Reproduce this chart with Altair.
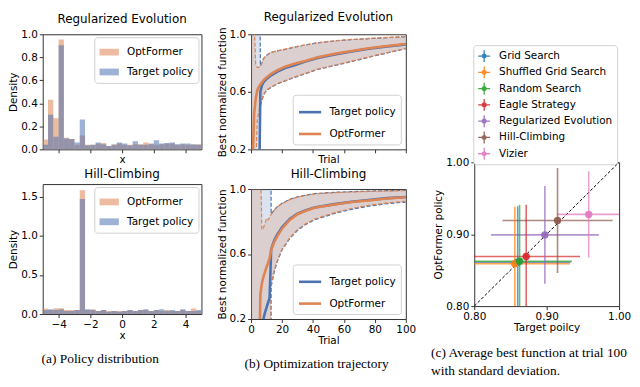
import altair as alt
import pandas as pd

BLUE = "#4c72b0"
ORANGE = "#dd8452"
FONT = "DejaVu Sans"
SERIF = "Liberation Serif"

# ---------------- (a) Policy distribution: 30 histogram bins on [-5, 5]
bin_left = [-5 + i / 3 for i in range(30)]
bin_right = [-5 + (i + 1) / 3 for i in range(30)]
re_opt = [0.085, 0.43, 0.27, 0.955, 0.10, 0.09, 0.04, 0.12, 0.04, 0.04,
          0.05, 0.055, 0.03, 0.045, 0.05, 0.04, 0.04, 0.045, 0.045, 0.06,
          0.045, 0.04, 0.045, 0.05, 0.05, 0.04, 0.045, 0.04, 0.04, 0.045]
re_tgt = [0.04, 0.30, 0.11, 0.905, 0.095, 0.09, 0.06, 0.26, 0.035, 0.04,
          0.06, 0.045, 0.03, 0.04, 0.06, 0.05, 0.035, 0.07, 0.04, 0.04,
          0.05, 0.08, 0.05, 0.055, 0.06, 0.045, 0.05, 0.05, 0.045, 0.04]
hc_opt = [0.07, 0.05, 0.075, 0.075, 0.05, 0.05, 0.05, 1.58, 0.05, 0.06,
          0.04, 0.05, 0.04, 0.04, 0.04, 0.04, 0.05, 0.04, 0.05, 0.05,
          0.04, 0.05, 0.04, 0.05, 0.04, 0.04, 0.05, 0.04, 0.07, 0.04]
hc_tgt = [0.05, 0.06, 0.05, 0.06, 0.04, 0.04, 0.05, 1.47, 0.06, 0.05,
          0.04, 0.05, 0.03, 0.04, 0.03, 0.04, 0.05, 0.04, 0.05, 0.06,
          0.04, 0.05, 0.06, 0.04, 0.05, 0.04, 0.06, 0.04, 0.04, 0.05]

# ---------------- (b) Optimization trajectory
re_trials = [0, 1, 2, 3, 4, 5, 6, 7, 8, 10, 13, 17, 22, 28, 35, 43, 55, 65, 76, 88, 100]
re_tgt_mean = [-1, -1, -1, -1, -1, -0.3, 0.60, 0.645, 0.665, 0.69, 0.715, 0.74, 0.765,
               0.785, 0.81, 0.835, 0.862, 0.88, 0.90, 0.915, 0.93]
re_tgt_hi = [3, 3, 3, 3, 3, 3, 0.78, 0.80, 0.83, 0.855, 0.875, 0.885, 0.895, 0.91,
             0.925, 0.94, 0.955, 0.963, 0.97, 0.977, 0.983]
re_tgt_lo = [-3, -3, -3, -3, -3, -3, 0.50, 0.54, 0.575, 0.61, 0.63, 0.655, 0.675, 0.70,
             0.725, 0.755, 0.785, 0.81, 0.84, 0.87, 0.90]
re_opt_mean = [-0.3, 0.1, 0.45, 0.55, 0.61, 0.635, 0.65, 0.665, 0.68, 0.70, 0.725, 0.75,
               0.775, 0.795, 0.815, 0.84, 0.866, 0.884, 0.903, 0.918, 0.933]
re_opt_hi = [3, 3, 1.1, 0.79, 0.77, 0.77, 0.785, 0.80, 0.83, 0.855, 0.875, 0.885, 0.897,
             0.912, 0.927, 0.942, 0.956, 0.964, 0.971, 0.978, 0.984]
re_opt_lo = [-3, -3, -0.2, 0.05, 0.40, 0.46, 0.51, 0.545, 0.578, 0.613, 0.633, 0.658,
             0.678, 0.703, 0.728, 0.758, 0.788, 0.813, 0.843, 0.872, 0.902]

hc_trials = [0, 1, 2, 3, 4, 5, 6, 7, 8, 9, 10, 11, 12, 13, 15, 17, 20, 25, 30, 35, 41,
             54, 65, 76, 88, 100]
hc_tgt_mean = [-1, -1, -1, -1, -1, -1, -1, 0.1, 0.2, 0.24, 0.27, 0.30, 0.33, 0.63, 0.685,
               0.72, 0.765, 0.815, 0.848, 0.868, 0.887, 0.907, 0.922, 0.932, 0.944, 0.951]
hc_tgt_hi = [3, 3, 3, 3, 3, 3, 3, 3, 3, 3, 3, 3, 3, 0.845, 0.872, 0.892, 0.912, 0.937,
             0.952, 0.962, 0.972, 0.98, 0.984, 0.987, 0.99, 0.992]
hc_tgt_lo = [-3, -3, -3, -3, -3, -3, -3, -3, -3, -3, -3, -3, -3, 0.40, 0.49, 0.555, 0.625,
             0.695, 0.745, 0.78, 0.81, 0.85, 0.875, 0.895, 0.91, 0.92]
hc_opt_mean = [-1, -1, -1, -1, -1, -0.3, 0.35, 0.42, 0.46, 0.49, 0.52, 0.545, 0.575, 0.625,
               0.675, 0.71, 0.756, 0.81, 0.845, 0.865, 0.885, 0.905, 0.92, 0.93, 0.942, 0.95]
hc_opt_hi = [3, 3, 3, 3, 3, 3, 1.2, 0.75, 0.76, 0.79, 0.82, 0.81, 0.825, 0.845, 0.87, 0.89,
             0.91, 0.935, 0.95, 0.96, 0.97, 0.978, 0.982, 0.985, 0.988, 0.99]
hc_opt_lo = [-3, -3, -3, -3, -3, -3, -3, -3, -3, -3, -3, -3, -3, 0.42, 0.50, 0.56, 0.63,
             0.70, 0.75, 0.785, 0.815, 0.855, 0.88, 0.90, 0.915, 0.925]

# ---------------- (c) Average best function at trial 100
methods = ["Grid Search", "Shuffled Grid Search", "Random Search", "Eagle Strategy",
           "Regularized Evolution", "Hill-Climbing", "Vizier"]
method_colors = ["#1f77b4", "#ff7f0e", "#2ca02c", "#d62728", "#9467bd", "#8c564b", "#e377c2"]
target_mean = [0.860, 0.856, 0.8626, 0.8717, 0.8975, 0.915, 0.958]
target_std = [0.073, 0.076, 0.0724, 0.0743, 0.0745, 0.076, 0.044]
optformer_mean = [0.861, 0.859, 0.8623, 0.869, 0.899, 0.919, 0.9275]
optformer_std = [0.078, 0.079, 0.0787, 0.072, 0.068, 0.073, 0.060]
diag_vals = [0.8, 1.0]

POLICIES = ["Target policy", "OptFormer"]
POL_COLORS = [BLUE, ORANGE]


# ======================================================================
def hist_panel(opt, tgt, title, ymax, yticks, show_labels, h):
    df = pd.DataFrame({
        "x0": bin_left + bin_left,
        "x1": bin_right + bin_right,
        "density": opt + tgt,
        "policy": ["OptFormer"] * 30 + ["Target policy"] * 30,
    })
    rect_path = "M-1,-0.35H1V0.35H-1Z"
    return alt.Chart(df).mark_bar(opacity=0.55, clip=True).encode(
        x=alt.X("x0:Q", scale=alt.Scale(domain=[-5, 5], nice=False),
                axis=alt.Axis(values=[-4, -2, 0, 2, 4], labels=show_labels, title="x",
                              labelFlush=False)),
        x2="x1:Q",
        y=alt.Y("density:Q", stack=None, scale=alt.Scale(domain=[0, ymax], nice=False),
                axis=alt.Axis(values=yticks, format=".1f", title="Density")),
        y2=alt.datum(0),
        color=alt.Color("policy:N",
                        scale=alt.Scale(domain=["OptFormer", "Target policy"],
                                        range=[ORANGE, BLUE]),
                        legend=alt.Legend(orient="top-right", title=None, offset=3,
                                          symbolType=rect_path, symbolSize=380,
                                          symbolOpacity=0.55, symbolStrokeWidth=0,
                                          fillColor="white", strokeColor="#d0d0d0",
                                          padding=5, cornerRadius=3, rowPadding=4,
                                          labelFontSize=10.5, labelOffset=8)),
    ).properties(width=160, height=h, title=alt.TitleParams(title, frame="group"))


def traj_panel(trials, tm, tl, th, om, ol, oh, title, show_labels, h):
    rows = []
    for pol, m, lo, hi in [("Target policy", tm, tl, th), ("OptFormer", om, ol, oh)]:
        for t, a, b, c in zip(trials, m, lo, hi):
            rows.append({"policy": pol, "trial": t, "mean": a, "lo": b, "hi": c})
    df = pd.DataFrame(rows)
    xenc = alt.X("trial:Q", scale=alt.Scale(domain=[0, 100], nice=False),
                 axis=alt.Axis(values=[0, 20, 40, 60, 80, 100], labels=show_labels,
                               title="Trial", labelFlush=False))
    ysc = alt.Scale(domain=[0.2, 1.0], nice=False)
    yaxis = alt.Axis(values=[0.2, 0.4, 0.6, 0.8, 1.0], format=".1f",
                     title="Best normalized function")
    layers = []
    for pol, col in zip(POLICIES, POL_COLORS):
        sub = alt.Chart(df).transform_filter(alt.datum.policy == pol)
        layers.append(sub.mark_area(opacity=0.2, color=col, clip=True).encode(
            x=xenc, y=alt.Y("lo:Q", scale=ysc, axis=yaxis), y2="hi:Q"))
    for pol, col in zip(POLICIES, POL_COLORS):
        sub = alt.Chart(df).transform_filter(alt.datum.policy == pol)
        for fld in ["lo", "hi"]:
            layers.append(sub.mark_line(strokeDash=[4, 2], strokeWidth=1.2, color=col,
                                        clip=True).encode(
                x=xenc, y=alt.Y(f"{fld}:Q", scale=ysc)))
    leg = alt.Legend(orient="bottom-right", title=None, offset=5, symbolType="stroke",
                     symbolStrokeWidth=2.6, symbolSize=500, fillColor="white",
                     strokeColor="#d0d0d0", padding=5, cornerRadius=3, rowPadding=4,
                     labelFontSize=10.5, labelOffset=7)
    for pol in POLICIES:
        layers.append(alt.Chart(df).transform_filter(alt.datum.policy == pol).mark_line(
            strokeWidth=2.6, clip=True).encode(
            x=xenc, y=alt.Y("mean:Q", scale=ysc),
            stroke=alt.Stroke("policy:N", scale=alt.Scale(domain=POLICIES, range=POL_COLORS),
                              legend=leg)))
    return alt.layer(*layers).properties(
        width=156, height=h, title=alt.TitleParams(title, frame="group"))


def caption(text, width, anchor, dx=0):
    # an empty, frameless view that only carries the sub-figure caption as its title
    return alt.Chart(pd.DataFrame({"v": [0]})).mark_point(opacity=0, size=1).encode(
        x=alt.value(0), y=alt.value(0)).properties(
        width=width, height=1, view=alt.ViewBackground(strokeOpacity=0),
        title=alt.TitleParams(text, anchor=anchor, font=SERIF, fontSize=13.5,
                              fontWeight="normal", offset=0, dx=dx, lineHeight=17.5))


RES = dict(color="independent", fill="independent", stroke="independent")

# ---- column (a)
a_top = hist_panel(re_opt, re_tgt, "Regularized Evolution", 1.0,
                   [0.0, 0.2, 0.4, 0.6, 0.8, 1.0], False, 116)
a_bot = hist_panel(hc_opt, hc_tgt, "Hill-Climbing", 1.66, [0.0, 0.5, 1.0, 1.5], True, 131)
cap_a = caption("(a) Policy distribution", 116, "middle")
col_a = alt.vconcat(alt.vconcat(a_top, a_bot, spacing=2).resolve_scale(**RES), cap_a,
                    spacing=10).resolve_scale(**RES)

# ---- column (b)
b_top = traj_panel(re_trials, re_tgt_mean, re_tgt_lo, re_tgt_hi, re_opt_mean, re_opt_lo,
                   re_opt_hi, "Regularized Evolution", False, 116)
b_bot = traj_panel(hc_trials, hc_tgt_mean, hc_tgt_lo, hc_tgt_hi, hc_opt_mean, hc_opt_lo,
                   hc_opt_hi, "Hill-Climbing", True, 131)
cap_b = caption("(b) Optimization trajectory", 132, "middle")
col_b = alt.vconcat(alt.vconcat(b_top, b_bot, spacing=2).resolve_scale(**RES), cap_b,
                    spacing=10).resolve_scale(**RES)

# ---- column (c)
cdf = pd.DataFrame({"method": methods, "tx": target_mean, "sx": target_std,
                    "ty": optformer_mean, "sy": optformer_std})
csc = alt.Scale(domain=[0.8, 1.0], nice=False)
ticks_c = [0.8, 0.85, 0.9, 0.95, 1.0]
xax = alt.Axis(values=ticks_c, format=".2f", title="Target poilcy", labelFlush=False)
yax = alt.Axis(values=ticks_c, format=".2f", title="OptFormer policy")
cbase = alt.Chart(cdf).transform_calculate(
    xlo="datum.tx - datum.sx", xhi="datum.tx + datum.sx",
    ylo="datum.ty - datum.sy", yhi="datum.ty + datum.sy")
# error bars use a colour scale with the domain listed in reverse, so that it is not
# merged with the legend of the points
rule_scale = alt.Scale(domain=methods[::-1], range=method_colors[::-1])
hbar = cbase.mark_rule(strokeWidth=1.6, opacity=0.7, clip=True).encode(
    x=alt.X("xlo:Q", scale=csc, axis=xax), x2="xhi:Q",
    y=alt.Y("ty:Q", scale=csc, axis=yax),
    color=alt.Color("method:N", scale=rule_scale, legend=None))
vbar = cbase.mark_rule(strokeWidth=1.6, opacity=0.7, clip=True).encode(
    x=alt.X("tx:Q", scale=csc), y=alt.Y("ylo:Q", scale=csc), y2="yhi:Q",
    color=alt.Color("method:N", scale=rule_scale, legend=None))
cross_path = ("M-1,-0.11H-0.11V-1H0.11V-0.11H1V0.11H0.11V1H-0.11V0.11H-1Z "
              "M0.43,0A0.43,0.43 0 1,1 -0.43,0A0.43,0.43 0 1,1 0.43,0Z")
pts = cbase.mark_circle(size=55, opacity=0.9).encode(
    x=alt.X("tx:Q", scale=csc), y=alt.Y("ty:Q", scale=csc),
    fill=alt.Fill("method:N", scale=alt.Scale(domain=methods, range=method_colors),
                  legend=alt.Legend(orient="none", legendX=-1, legendY=11,
                                    direction="vertical", title=None,
                                    symbolType=cross_path, symbolSize=144,
                                    symbolOpacity=0.9, fillColor="white",
                                    strokeColor="#d0d0d0", padding=4, cornerRadius=3,
                                    rowPadding=3.4, labelFontSize=10.5, labelOffset=8)))
diag = alt.Chart(pd.DataFrame({"d": diag_vals})).mark_line(
    color="black", strokeDash=[3, 2], strokeWidth=1).encode(
    x=alt.X("d:Q", scale=csc), y=alt.Y("d:Q", scale=csc))
c_plot = alt.layer(diag, hbar, vbar, pts).properties(width=146, height=145)
spacer = alt.Chart(pd.DataFrame({"v": [0]})).mark_point(opacity=0, size=1).encode(
    x=alt.value(0), y=alt.value(0)).properties(
    width=146, height=123, view=alt.ViewBackground(strokeOpacity=0))
cap_c = caption(["(c) Average best function at trial 100", "with standard deviation."],
                146, "start", dx=-43)
col_c = alt.vconcat(alt.vconcat(spacer, c_plot, spacing=0), cap_c, spacing=12)

chart = alt.hconcat(col_a, col_b, col_c, spacing=14).resolve_scale(**RES).properties(
    padding=0).configure_view(
    stroke="#333333", strokeWidth=1
).configure_axis(
    domain=False, grid=False, tickColor="#333333", tickSize=3.5, labelFontSize=10.5,
    titleFontSize=10.5, titleFontWeight="normal", labelFont=FONT, titleFont=FONT,
    labelColor="black", titleColor="black", labelPadding=2
).configure_axisY(titlePadding=2).configure_axisX(titlePadding=1).configure_title(
    font=FONT, fontSize=12, fontWeight="normal", color="black", offset=3
).configure_legend(labelFont=FONT, labelColor="black")

chart.save("out.html", embed_options={"renderer": "svg", "actions": False})
